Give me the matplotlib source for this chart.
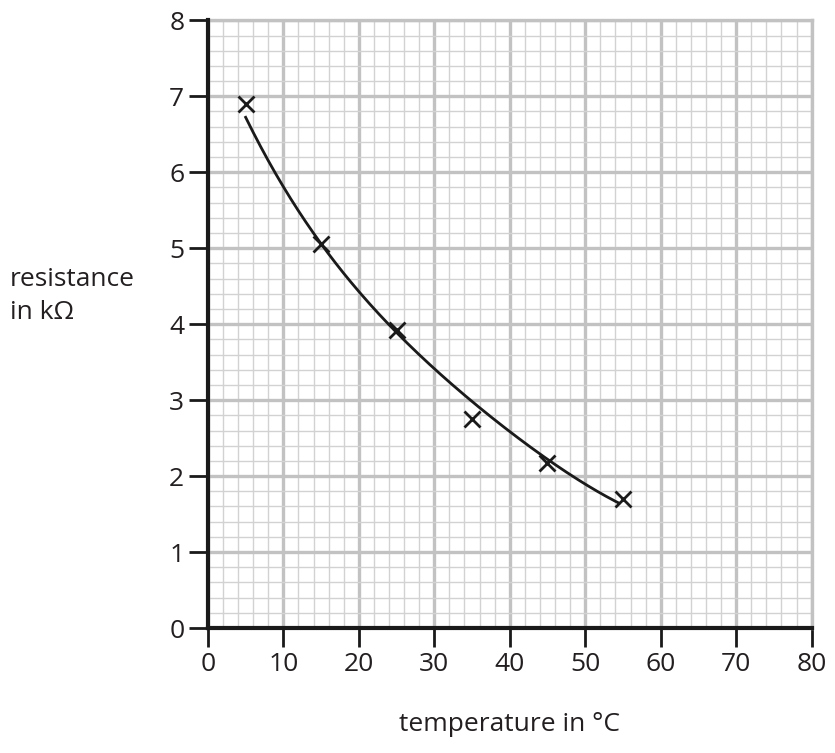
import numpy as np
import matplotlib
matplotlib.use("Agg")
import matplotlib.pyplot as plt
from matplotlib.ticker import MultipleLocator

plt.rcParams['font.family'] = ['Open Sans', 'DejaVu Sans']

# measured points
temp = [5, 15, 25, 35, 45, 55]
resistance = [6.9, 5.05, 3.92, 2.75, 2.17, 1.7]

# line of best fit
curve_x = [5, 10, 15, 20, 25, 30, 35, 40, 45, 50, 54.5]
curve_y = [6.72, 5.82, 5.05, 4.42, 3.90, 3.42, 2.98, 2.58, 2.22, 1.90, 1.64]

fig = plt.figure(figsize=(8.35, 7.53), dpi=100)
ax = fig.add_axes([0.249, 0.166, 0.723, 0.807])

ax.set_xlim(0, 80)
ax.set_ylim(0, 8)
ax.xaxis.set_major_locator(MultipleLocator(10))
ax.yaxis.set_major_locator(MultipleLocator(1))
ax.xaxis.set_minor_locator(MultipleLocator(2))
ax.yaxis.set_minor_locator(MultipleLocator(0.2))

ax.grid(which='minor', color='#d2d2d2', linewidth=1.0)
ax.grid(which='major', color='#c2c2c2', linewidth=2.4)
ax.set_axisbelow(True)

for s in ['top', 'right']:
    ax.spines[s].set_color('#c2c2c2')
    ax.spines[s].set_linewidth(2.4)
for s in ['left', 'bottom']:
    ax.spines[s].set_color('#1a1a1a')
    ax.spines[s].set_linewidth(3)
    ax.spines[s].set_zorder(5)

ax.tick_params(which='major', direction='out', length=14, width=2,
               color='#1a1a1a', labelsize=19, labelcolor='#231f20', pad=3)
ax.tick_params(which='minor', length=0)

# smooth curve through the read-off points
p = np.polyfit(curve_x, curve_y, 4)
xs = np.linspace(curve_x[0], curve_x[-1], 200)
ax.plot(xs, np.polyval(p, xs), color='#1a1a1a', linewidth=2, zorder=6)

ax.plot(temp, resistance, linestyle='none', marker='x', markersize=12,
        markeredgewidth=2, color='#1a1a1a', zorder=7)

fig.text(0.012, 0.607, 'resistance\nin k\u03a9', fontsize=19, color='#231f20',
         ha='left', va='center', linespacing=1.45)
fig.text(0.61, 0.038, 'temperature in \u00b0C', fontsize=19, color='#231f20',
         ha='center', va='center')

fig.savefig('out.png', dpi=100)
